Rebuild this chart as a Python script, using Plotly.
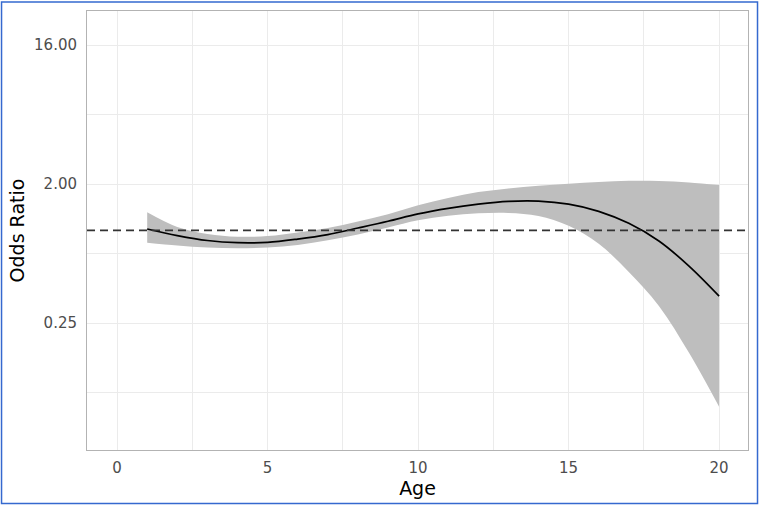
import plotly.graph_objects as go
import math

age = list(range(1, 21))
odds_ratio = [1.020, 0.925, 0.859, 0.831, 0.836, 0.878, 0.939, 1.035, 1.145, 1.279,
              1.390, 1.479, 1.542, 1.548, 1.479, 1.329, 1.110, 0.853, 0.586, 0.374]
upper_ci = [1.310, 1.051, 0.947, 0.909, 0.918, 0.968, 1.035, 1.141, 1.270, 1.454,
            1.625, 1.772, 1.872, 1.945, 2.007, 2.063, 2.096, 2.092, 2.049, 1.970]
lower_ci = [0.831, 0.797, 0.773, 0.764, 0.773, 0.803, 0.862, 0.939, 1.043, 1.162,
            1.242, 1.290, 1.298, 1.240, 1.072, 0.818, 0.536, 0.323, 0.160, 0.0714]

y_ticks = [0.25, 2, 16]
y_tick_labels = ["0.25", "2.00", "16.00"]
y_minor = [0.25 / math.sqrt(8), 0.25 * math.sqrt(8), 2 * math.sqrt(8)]
x_ticks = [0, 5, 10, 15, 20]
x_minor = [2.5, 7.5, 12.5, 17.5]
reference_or = 1

fig = go.Figure()
fig.add_trace(go.Scatter(x=age, y=upper_ci, mode="lines", line=dict(width=0, shape="spline"),
                         showlegend=False, hoverinfo="skip"))
fig.add_trace(go.Scatter(x=age, y=lower_ci, mode="lines", line=dict(width=0, shape="spline"),
                         fill="tonexty", fillcolor="rgb(190,190,190)", showlegend=False, hoverinfo="skip"))
fig.add_trace(go.Scatter(x=age, y=odds_ratio, mode="lines",
                         line=dict(color="black", width=1.7, shape="spline"), showlegend=False))

fig.add_shape(type="line", xref="paper", x0=0, x1=1, yref="y", y0=reference_or, y1=reference_or,
              line=dict(color="#333333", width=1.6, dash="8px,5px"))

# outer blue frame
fig.add_shape(type="rect", xref="paper", yref="paper",
              x0=-0.1293, x1=1.0144, y0=-0.1219, y1=1.0205,
              line=dict(color="#3569cf", width=1.5), layer="above")

grid = "#ebebeb"
fig.update_layout(
    width=760, height=507,
    margin=dict(l=87, r=12, t=11, b=57),
    paper_bgcolor="white", plot_bgcolor="white",
    font=dict(family="DejaVu Sans", color="#4d4d4d", size=15),
    xaxis=dict(range=[-1, 20.96], tickvals=x_ticks, ticktext=[str(v) for v in x_ticks],
               showgrid=True, gridcolor=grid, gridwidth=1.3, zeroline=False,
               showline=True, linecolor="#b3b3b3", linewidth=1, mirror=True,
               minor=dict(tickvals=x_minor, showgrid=True, gridcolor=grid, gridwidth=0.8),
               ticks="", ticklabelstandoff=4,
               title=dict(text="Age", font=dict(size=19, color="black"), standoff=3)),
    yaxis=dict(type="log", range=[-1.4272, 1.4251], tickvals=y_ticks, ticktext=y_tick_labels,
               showgrid=True, gridcolor=grid, gridwidth=1.3, zeroline=False,
               showline=True, linecolor="#b3b3b3", linewidth=1, mirror=True,
               minor=dict(tickvals=y_minor, showgrid=True, gridcolor=grid, gridwidth=0.8),
               ticks="", ticklabelstandoff=6,
               title=dict(text="Odds Ratio", font=dict(size=19, color="black"), standoff=4)),
)

fig.write_html("out.html", config={"displayModeBar": False},
               post_script="document.body.style.margin='0';document.body.style.overflow='hidden';")
